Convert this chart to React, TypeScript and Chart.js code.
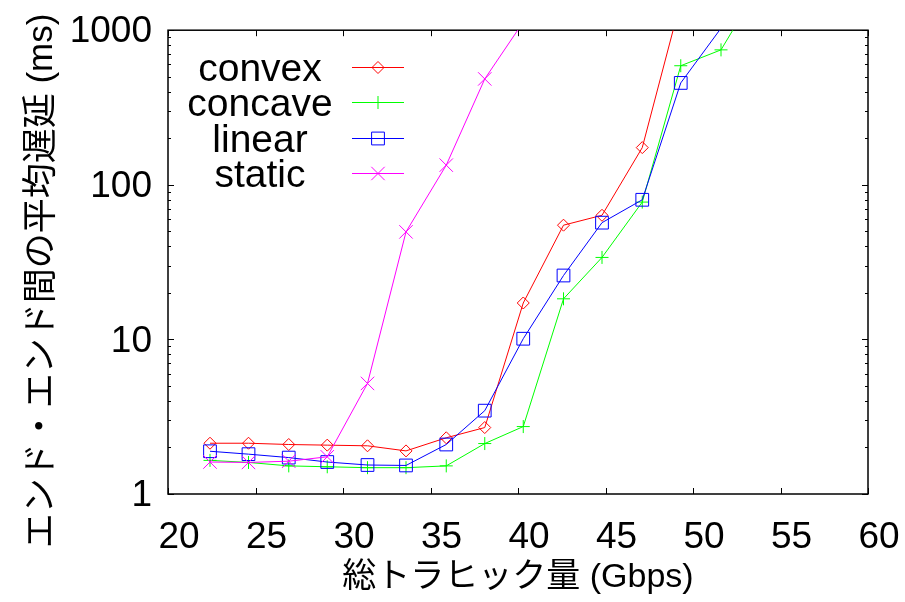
import React, { useEffect, useRef } from 'react';
import { Chart, registerables } from 'chart.js';

Chart.register(...registerables);

// ---- data ----
const xValues = [22.4, 24.6, 26.9, 29.1, 31.4, 33.6, 35.9, 38.1, 40.3, 42.6, 44.8, 47.1, 49.3, 51.6, 53.8];
const convex = [2.13, 2.13, 2.09, 2.07, 2.05, 1.9, 2.31, 2.69, 17.2, 54.8, 63.5, 174, 1540];
const concave = [1.65, 1.6, 1.52, 1.5, 1.48, 1.48, 1.52, 2.12, 2.73, 18.3, 33.9, 77.3, 589, 746, 1940];
const linear = [1.89, 1.81, 1.72, 1.61, 1.54, 1.53, 2.09, 3.46, 10.1, 25.9, 56.9, 80.0, 456, 1030];
const staticSeries = [1.61, 1.6, 1.63, 1.74, 5.19, 49.6, 134, 484, 1130];

const seriesNames = ['convex', 'concave', 'linear', 'static'];
const seriesColors = ['#ff0000', '#00ff00', '#0000ff', '#ff00ff'];
const seriesStyles = ['rectRot', 'cross', 'rect', 'crossRot'];
const seriesRadius = [6, 6.5, 9, 9.5];

const xTicks = [20, 25, 30, 35, 40, 45, 50, 55, 60];
const yTicks = [1, 10, 100, 1000];
const yMinorTicks = [2, 3, 4, 5, 6, 7, 8, 9, 20, 30, 40, 50, 60, 70, 80, 90, 200, 300, 400, 500, 600, 700, 800, 900];
const xMin = 20;
const xMax = 60;
const yMin = 1;
const yMax = 1000;

const xTitle = '総トラヒック量 (Gbps)';
const yTitle = 'エンド・エンド間の平均遅延 (ms)';

const FONT = "'Liberation Sans', Arial, 'Noto Sans CJK JP', sans-serif";

const allSeries = [convex, concave, linear, staticSeries];

function drawMarker(ctx: CanvasRenderingContext2D, style: string, x: number, y: number) {
  ctx.beginPath();
  if (style === 'rectRot') {
    const r = 6;
    ctx.moveTo(x, y - r);
    ctx.lineTo(x + r, y);
    ctx.lineTo(x, y + r);
    ctx.lineTo(x - r, y);
    ctx.closePath();
  } else if (style === 'cross') {
    const r = 6.5;
    ctx.moveTo(x - r, y);
    ctx.lineTo(x + r, y);
    ctx.moveTo(x, y - r);
    ctx.lineTo(x, y + r);
  } else if (style === 'rect') {
    const h = 6.4;
    ctx.rect(x - h, y - h, 2 * h, 2 * h);
  } else {
    const h = 6.7;
    ctx.moveTo(x - h, y - h);
    ctx.lineTo(x + h, y + h);
    ctx.moveTo(x + h, y - h);
    ctx.lineTo(x - h, y + h);
  }
  ctx.stroke();
}

const framePlugin = {
  id: 'gnuplotFrame',
  beforeDatasetsDraw(chart: any) {
    const { ctx, chartArea, scales } = chart;
    const { left, right, top, bottom } = chartArea;
    const xs = scales.x;
    const ys = scales.y;
    ctx.save();
    ctx.strokeStyle = '#000';
    ctx.lineWidth = 1.5;
    ctx.strokeRect(left, top, right - left, bottom - top);
    ctx.lineWidth = 1;
    ctx.beginPath();
    const major = 6;
    const minor = 3;
    xTicks.forEach((v) => {
      const px = Math.round(xs.getPixelForValue(v)) + 0.5;
      ctx.moveTo(px, bottom);
      ctx.lineTo(px, bottom - major);
      ctx.moveTo(px, top);
      ctx.lineTo(px, top + major);
    });
    yTicks.forEach((v) => {
      const py = Math.round(ys.getPixelForValue(v)) + 0.5;
      ctx.moveTo(left, py);
      ctx.lineTo(left + major, py);
      ctx.moveTo(right, py);
      ctx.lineTo(right - major, py);
    });
    yMinorTicks.forEach((v) => {
      const py = Math.round(ys.getPixelForValue(v)) + 0.5;
      ctx.moveTo(left, py);
      ctx.lineTo(left + minor, py);
      ctx.moveTo(right, py);
      ctx.lineTo(right - minor, py);
    });
    ctx.stroke();
    ctx.restore();
  },
  afterDatasetsDraw(chart: any) {
    const { ctx } = chart;
    const rows = [67, 102, 138, 173];
    ctx.save();
    ctx.font = `39px ${FONT}`;
    ctx.textAlign = 'center';
    ctx.textBaseline = 'alphabetic';
    ctx.fillStyle = '#000';
    seriesNames.forEach((name, i) => {
      const y = rows[i];
      ctx.fillText(name, 260, y + 13.5);
      ctx.strokeStyle = seriesColors[i];
      ctx.lineWidth = 1;
      ctx.beginPath();
      ctx.moveTo(352, y + 0.5);
      ctx.lineTo(404, y + 0.5);
      ctx.stroke();
      drawMarker(ctx, seriesStyles[i], 378, y + 0.5);
    });
    ctx.restore();
  },
  afterDraw(chart: any) {
    const { ctx } = chart;
    ctx.save();
    ctx.translate(42, 281);
    ctx.rotate(-Math.PI / 2);
    ctx.font = `35px ${FONT}`;
    ctx.textAlign = 'center';
    ctx.textBaseline = 'middle';
    ctx.fillStyle = '#000';
    ctx.fillText(yTitle, 0, 0);
    ctx.restore();
  },
};

export default function App() {
  const canvasRef = useRef<HTMLCanvasElement | null>(null);

  useEffect(() => {
    const canvas = canvasRef.current;
    if (!canvas) return;
    const datasets = allSeries.map((vals, i) => ({
      label: seriesNames[i],
      data: vals.map((v, j) => ({ x: xValues[j], y: v })),
      borderColor: seriesColors[i],
      backgroundColor: 'transparent',
      borderWidth: 1,
      pointStyle: seriesStyles[i] as any,
      pointRadius: (c: any) => (c.raw && c.raw.y > yMax ? 0 : seriesRadius[i]),
      pointBorderWidth: 1,
      pointBorderColor: seriesColors[i],
      pointBackgroundColor: 'transparent',
      tension: 0,
      clip: 0,
      order: 4 - i,
    }));

    const chart = new Chart(canvas, {
      type: 'line',
      data: { datasets },
      plugins: [framePlugin],
      options: {
        animation: false,
        responsive: false,
        devicePixelRatio: 1,
        layout: { padding: { top: 27, right: 37, left: 0, bottom: 0 } },
        plugins: { legend: { display: false }, tooltip: { enabled: false } },
        events: [],
        scales: {
          x: {
            type: 'linear',
            min: xMin,
            max: xMax,
            afterBuildTicks: (s: any) => {
              s.ticks = xTicks.map((v) => ({ value: v }));
            },
            afterFit: (s: any) => {
              s.height = 108;
            },
            ticks: {
              font: { family: FONT, size: 37 },
              color: '#000',
              padding: 14,
              labelOffset: 11,
              maxRotation: 0,
              autoSkip: false,
              callback: (v: any) => String(v),
            },
            grid: { display: false },
            border: { display: false },
            title: {
              display: true,
              text: xTitle,
              font: { family: FONT, size: 34 },
              color: '#000',
              padding: { top: 0, bottom: 4 },
            },
          },
          y: {
            type: 'logarithmic',
            min: yMin,
            max: yMax,
            afterBuildTicks: (s: any) => {
              s.ticks = yTicks.map((v) => ({ value: v }));
            },
            afterFit: (s: any) => {
              s.width = 168;
            },
            ticks: {
              font: { family: FONT, size: 37 },
              color: '#000',
              padding: 8,
              labelOffset: 2,
              autoSkip: false,
              callback: (v: any) => String(v),
            },
            grid: { display: false },
            border: { display: false },
          },
        },
      },
    } as any);
    return () => chart.destroy();
  }, []);

  return (
    <div style={{ position: 'fixed', left: 0, top: 0, width: 905, height: 602, background: '#fff' }}>
      <canvas ref={canvasRef} width={905} height={602} style={{ width: 905, height: 602, display: 'block' }} />
    </div>
  );
}
